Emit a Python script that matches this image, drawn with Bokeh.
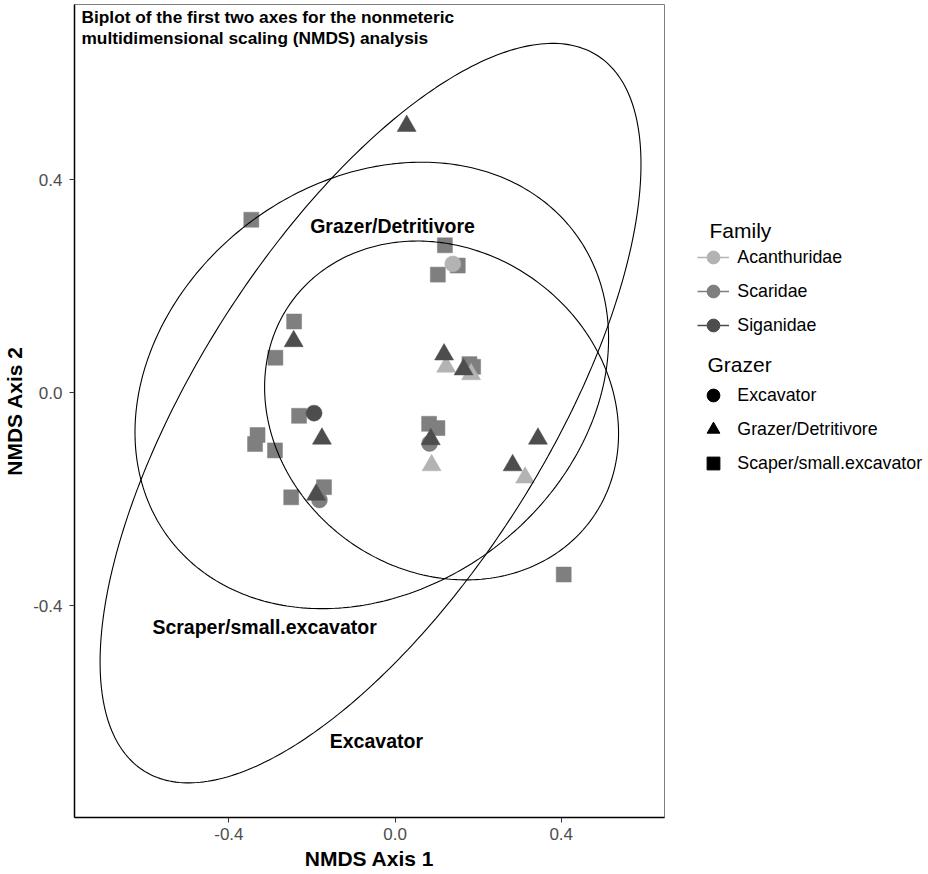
import numpy as np
from bokeh.plotting import figure
from bokeh.layouts import row
from bokeh.models import ColumnDataSource, Legend, LegendItem, Label, FixedTicker, PrintfTickFormatter
from bokeh.embed import file_html
from bokeh.resources import INLINE
from bokeh.core.properties import value

# ---------------- data ----------------
nmds1 = [-0.346, 0.120, 0.151, 0.103, -0.243, -0.288, 0.179, 0.188, -0.231, -0.331,
         -0.337, -0.289, 0.082, 0.102, 0.406, -0.250, -0.171,
         0.139, -0.195, 0.083, -0.182,
         0.123, 0.183, 0.088, 0.313,
         0.028, -0.244, 0.118, 0.165, -0.176, 0.086, 0.344, 0.283, -0.190]
nmds2 = [0.325, 0.277, 0.239, 0.222, 0.134, 0.066, 0.054, 0.049, -0.043, -0.079,
         -0.096, -0.108, -0.058, -0.066, -0.341, -0.196, -0.177,
         0.242, -0.038, -0.095, -0.201,
         0.049, 0.035, -0.136, -0.159,
         0.501, 0.097, 0.072, 0.044, -0.086, -0.087, -0.086, -0.136, -0.191]
family = (["Scaridae"] * 17
          + ["Acanthuridae", "Siganidae", "Scaridae", "Scaridae"]
          + ["Acanthuridae"] * 4
          + ["Siganidae"] * 9)
grazer = (["Scaper/small.excavator"] * 17
          + ["Excavator"] * 4
          + ["Grazer/Detritivore"] * 13)

families = ["Acanthuridae", "Scaridae", "Siganidae"]
family_colors = ["#B3B3B3", "#7F7F7F", "#4D4D4D"]
grazers = ["Excavator", "Grazer/Detritivore", "Scaper/small.excavator"]
grazer_markers = ["circle", "triangle", "square"]
grazer_sizes = [16, 19, 15]

# ellipse parameters (centre, half-extent along each axis, correlation)
ell_group = ["Excavator", "Scraper/small.excavator", "Grazer/Detritivore"]
ell_cx = [-0.059, -0.056, 0.112]
ell_cy = [-0.038, 0.014, -0.033]
ell_sx = [0.651, 0.570, 0.426]
ell_sy = [0.694, 0.419, 0.318]
ell_rho = [0.673, 0.21, -0.137]

group_labels = ["Grazer/Detritivore", "Scraper/small.excavator", "Excavator"]
group_label_x = [-0.006, -0.314, -0.045]
group_label_y = [0.314, -0.439, -0.653]

x_ticks = [-0.4, 0.0, 0.4]
y_ticks = [-0.4, 0.0, 0.4]

title_lines = ["Biplot of the first two axes for the nonmeteric",
               "multidimensional scaling (NMDS) analysis"]

FONT = "Liberation Sans"
H = 872

# ---------------- main figure ----------------
p = figure(width=668, height=H, x_range=(-0.7716, 0.6486), y_range=(-0.797, 0.729),
           output_backend="svg", toolbar_location=None,
           min_border_left=73, min_border_right=4, min_border_top=4, min_border_bottom=55)
p.xgrid.visible = False
p.ygrid.visible = False
p.background_fill_color = "white"
p.border_fill_color = "white"
p.outline_line_color = "#7F7F7F"
p.outline_line_width = 1

for ax, lab, ticks, lstand in ((p.xaxis, "NMDS Axis 1", x_ticks, 5),
                               (p.yaxis, "NMDS Axis 2", y_ticks, 7)):
    ax.axis_label = lab
    ax.ticker = FixedTicker(ticks=ticks)
    ax.formatter = PrintfTickFormatter(format="%.1f")
    ax.axis_label_text_font = FONT
    ax.axis_label_text_font_size = "21px"
    ax.axis_label_text_font_style = "bold"
    ax.axis_label_text_color = "black"
    ax.axis_label_standoff = 4
    ax.major_label_text_font = FONT
    ax.major_label_text_font_size = "17px"
    ax.major_label_text_color = "#4D4D4D"
    ax.major_label_standoff = lstand
    ax.major_tick_out = 5
    ax.major_tick_in = 0
    ax.minor_tick_out = 0
    ax.minor_tick_in = 0
    ax.major_tick_line_color = "#333333"
    ax.axis_line_color = "black"
    ax.axis_line_width = 1.5

# points
fam_color = dict(zip(families, family_colors))
gr_marker = dict(zip(grazers, grazer_markers))
gr_size = dict(zip(grazers, grazer_sizes))
src = ColumnDataSource(dict(
    x=nmds1, y=nmds2,
    color=[fam_color[f] for f in family],
    marker=[gr_marker[g] for g in grazer],
    size=[gr_size[g] for g in grazer],
))
p.scatter("x", "y", source=src, marker="marker", size="size",
          fill_color="color", line_color="color", line_width=0.5)

# ellipses
t = np.linspace(0, 2 * np.pi, 361)
for cx, cy, sx, sy, r in zip(ell_cx, ell_cy, ell_sx, ell_sy, ell_rho):
    ex = cx + sx * np.cos(t)
    ey = cy + sy * (r * np.cos(t) + np.sqrt(1 - r * r) * np.sin(t))
    p.line(ex, ey, line_color="black", line_width=1.1)

# group labels
p.text(x=group_label_x, y=group_label_y, text=group_labels,
       text_font=value(FONT), text_font_style="bold", text_font_size="19.5px",
       text_color="black", text_align="center", text_baseline="middle")

# title inside the panel
for i, line in enumerate(title_lines):
    p.add_layout(Label(x=7, x_units="screen", y=0.729, y_units="data",
                       y_offset=-2 - 21.5 * i, text=line, text_font=FONT,
                       text_font_size="17.3px", text_font_style="bold",
                       text_color="black", text_align="left", text_baseline="top"))

# ---------------- legend panel ----------------
LW = 258
q = figure(width=LW, height=H, x_range=(0, 1), y_range=(0, 1),
           output_backend="svg", toolbar_location=None,
           x_axis_type=None, y_axis_type=None,
           min_border_left=0, min_border_right=0, min_border_top=0, min_border_bottom=0)
q.xgrid.visible = False
q.ygrid.visible = False
q.outline_line_color = None
q.background_fill_color = "white"
q.border_fill_color = "white"

# legend-only renderers: one point each, placed outside the visible range
fam_items = []
for f, c in zip(families, family_colors):
    lr = q.line(x=[-10, -9], y=[-10, -10], line_color=c, line_width=1.5)
    sr = q.scatter(x=[-10], y=[-10], marker="circle", fill_color=c, line_color=c)
    fam_items.append(LegendItem(label=f, renderers=[lr, sr]))
gr_items = []
for g, m in zip(grazers, grazer_markers):
    sr = q.scatter(x=[-10], y=[-10], marker=m, fill_color="black", line_color="black")
    gr_items.append(LegendItem(label=g, renderers=[sr]))

X0 = 668   # page x of the legend panel frame
FB = 817   # page y of the (aligned) frame bottom

def make_legend(items, bottom_page):
    return Legend(items=items, location=(697.3 - X0, FB - bottom_page),
                  glyph_width=32, glyph_height=32, label_height=32, spacing=2,
                  padding=0, margin=0, label_standoff=8,
                  label_text_font=FONT, label_text_font_size="17.8px",
                  label_text_color="black",
                  border_line_alpha=0, background_fill_alpha=0)

q.add_layout(make_legend(fam_items, 341.3))
q.add_layout(make_legend(gr_items, 479))

for txt, lx, ly in (("Family", 709, 230), ("Grazer", 707, 364)):
    q.add_layout(Label(x=lx - X0, y=FB - ly, x_units="screen", y_units="screen",
                       text=txt, text_font=FONT, text_font_size="21px",
                       text_color="black", text_align="left", text_baseline="middle"))

layout = row(p, q)
open("out.html", "w").write(file_html(layout, INLINE))
